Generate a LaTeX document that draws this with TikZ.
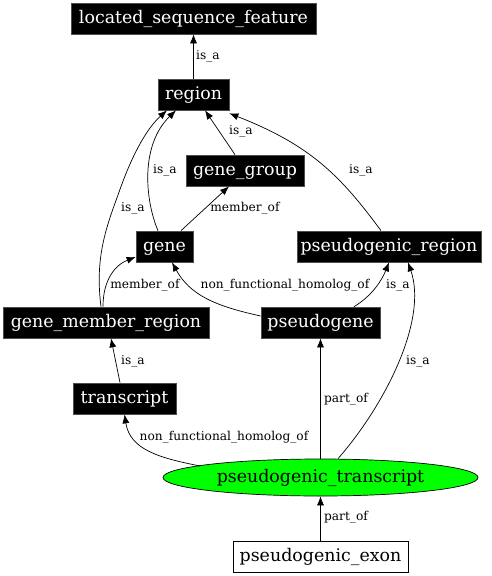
\documentclass[tikz,border=0pt]{standalone}
\usepackage{fontspec}
\setmainfont{DejaVu Serif}
\usetikzlibrary{arrows.meta,shapes.geometric}

\tikzset{
    term/.style={draw=black!70, fill=black, text=white, inner sep=0pt,
        minimum height=31pt, text height=13pt, text depth=3.5pt,
        font=\fontsize{17.4}{19}\selectfont},
    leaf/.style={term, fill=white, draw=black, text=black},
    focus/.style={ellipse, draw=black, fill=green, inner sep=0pt,
        minimum width=315pt, minimum height=37pt, text height=13pt, text depth=3.5pt,
        font=\fontsize{17.4}{19}\selectfont},
    lbl/.style={font=\fontsize{12.2}{14}\selectfont, inner sep=0pt},
}

\begin{document}
\begin{tikzpicture}[x=1pt,y=-1pt,>={Latex[length=9pt,width=7pt]},line width=0.7pt]
    \useasboundingbox (0,0) rectangle (491,576);

    \node [term,minimum width=245pt] (lsf)  at (193.5,18.5)  {located\_sequence\_feature};
    \node [term,minimum width=71pt]  (reg)  at (193.5,94.5)  {region};
    \node [term,minimum width=118pt] (gg)   at (245,170.5)   {gene\_group};
    \node [term,minimum width=57pt]  (gene) at (164.5,246.5) {gene};
    \node [term,minimum width=184pt] (preg) at (389,246.5)   {pseudogenic\_region};
    \node [term,minimum width=206pt] (gmr)  at (106,322.5)   {gene\_member\_region};
    \node [term,minimum width=119pt] (pg)   at (320.5,322.5) {pseudogene};
    \node [term,minimum width=103pt] (tr)   at (124.5,398.5) {transcript};
    \node [focus]                    (pt)   at (320.5,477.5) {pseudogenic\_transcript};
    \node [leaf,minimum width=175pt] (pe)   at (320.5,556.5) {pseudogenic\_exon};

    % is_a
    \draw [->] (reg) -- (lsf) node [lbl] at (208,56) {is\_a};
    \draw [->] ([xshift=-10pt]gg.north) -- ([xshift=11.5pt]reg.south)
        node [lbl] at (241,131) {is\_a};
    \draw [->] ([xshift=-6.5pt]gene.north) .. controls (145,200) and (140,145) .. ([xshift=-17.5pt]reg.south)
        node [lbl] at (165,170) {is\_a};
    \draw [->] ([xshift=-5pt]gmr.north) .. controls (95,260) and (105,230) .. (118,195)
        .. controls (130,160) and (145,130) .. ([xshift=-26.5pt]reg.south)
        node [lbl] at (133,208) {is\_a};
    \draw [->] ([xshift=-8pt]preg.north) .. controls (340,175) and (310,145) .. ([yshift=-3pt]reg.south east)
        node [lbl] at (361,170) {is\_a};
    \draw [->] ([xshift=33.5pt]pg.north) .. controls (372,296) and (382,280) .. (preg.south)
        node [lbl] at (398,285) {is\_a};
    \draw [->] ([xshift=-4.5pt]tr.north) -- ([xshift=5pt]gmr.south)
        node [lbl] at (133,361) {is\_a};
    \draw [->] ([xshift=17.5pt]pt.north) .. controls (385,405) and (428,320) .. ([xshift=19pt]preg.south)
        node [lbl] at (418,361) {is\_a};

    % member_of
    \draw [->] ([xshift=16.5pt]gene.north) -- ([xshift=-16pt]gg.south)
        node [lbl] at (245,208) {member\_of};
    \draw [->] ([xshift=-3pt]gmr.north) .. controls (103,280) and (115,265) .. ([yshift=-10.5pt]gene.west)
        node [lbl] at (145,285) {member\_of};

    % non_functional_homolog_of
    \draw [->] ([yshift=6.5pt]pg.west) .. controls (215,306) and (190,295) .. ([xshift=7.5pt]gene.south)
        node [lbl] at (285,285) {non\_functional\_homolog\_of};
    \draw [->] (200,466) .. controls (160,458) and (130,450) .. (tr.south)
        node [lbl] at (224,437) {non\_functional\_homolog\_of};

    % part_of
    \draw [->] (pt) -- (pg) node [lbl] at (346,399) {part\_of};
    \draw [->] (pe) -- (pt) node [lbl] at (346,517) {part\_of};

\end{tikzpicture}
\end{document}
